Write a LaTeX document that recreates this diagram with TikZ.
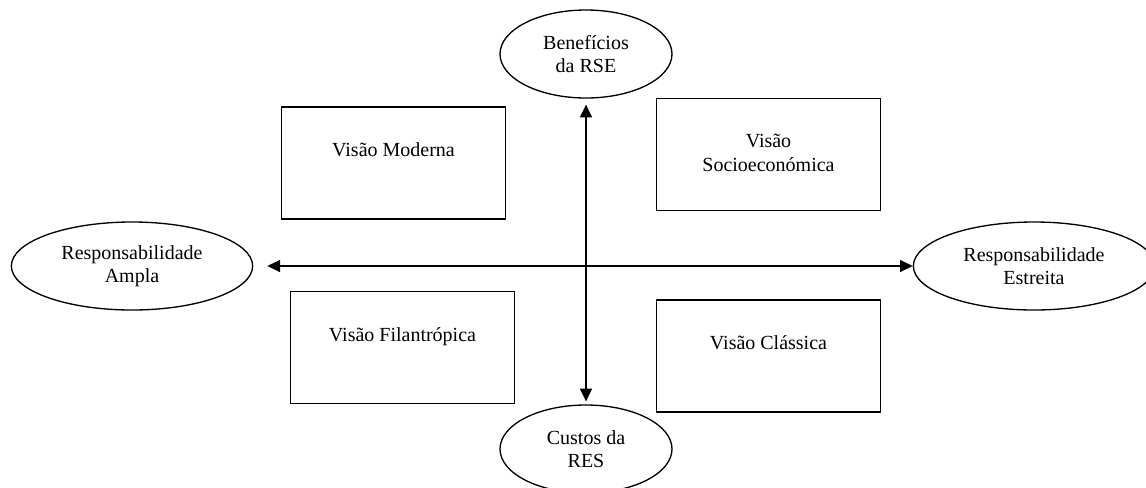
\documentclass[tikz,border=0pt]{standalone}
\usepackage{fontspec}
\setmainfont{Liberation Serif}
\usetikzlibrary{shapes.geometric,arrows.meta}
\begin{document}
\begin{tikzpicture}[x=0.75pt,y=-0.75pt,line width=.35mm,
    font=\fontsize{15}{17.5}\selectfont,
    polo/.style={draw,ellipse,align=center,inner sep=0pt,minimum height=66pt},
    visao/.style={draw,rectangle,minimum width=168pt,minimum height=84pt},
    rotulo/.style={align=center,anchor=north,inner sep=0pt},
    seta/.style={{Triangle[length=9.5pt,width=9pt]}-{Triangle[length=9.5pt,width=9pt]}}]
      \useasboundingbox (0,0) rectangle (1146,487);
      \clip (0,0) rectangle (1146,487);

      \node[polo,minimum width=129pt] (B) at (586,54) {Benefícios\\da RSE};
      \node[polo,minimum width=129pt] (K) at (586,449) {Custos da\\RES};
      \node[polo,minimum width=181pt] (A) at (132,266) {Responsabilidade\\Ampla};
      \node[polo,minimum width=181pt] (E) at (1034,266) {Responsabilidade\\Estreita};

      \node[visao] (M) at (393.5,163) {};
      \node[visao] (S) at (768.5,154.5) {};
      \node[visao] (F) at (402.5,347.5) {};
      \node[visao] (C) at (768.5,356) {};

      \node[rotulo] (Mt) at ([yshift=-27pt]M.north) {Visão Moderna};
      \node[rotulo] (St) at ([yshift=-27pt]S.north) {Visão\\Socioeconómica};
      \node[rotulo] (Ft) at ([yshift=-27pt]F.north) {Visão Filantrópica};
      \node[rotulo] (Ct) at ([yshift=-27pt]C.north) {Visão Clássica};

      \draw[seta,shorten <=4.5pt,shorten >=2.25pt] (B) -- (K);
      \draw[seta,shorten <=10.5pt] (A) -- (E);
    \end{tikzpicture}
\end{document}
